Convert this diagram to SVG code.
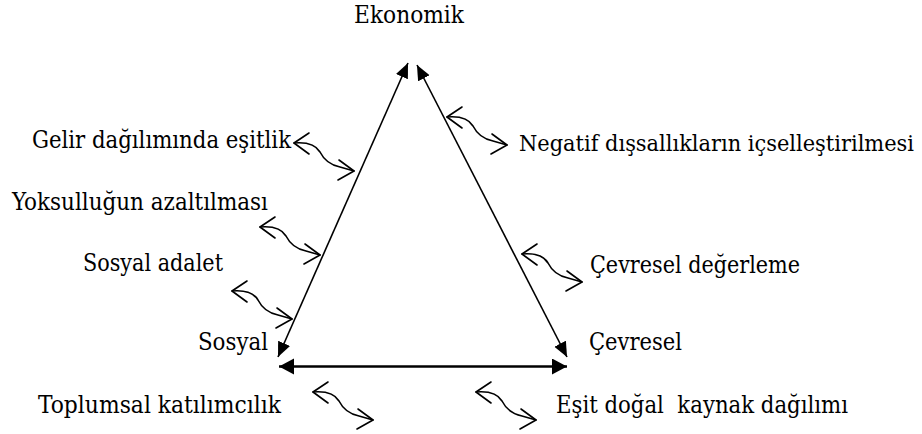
<svg xmlns="http://www.w3.org/2000/svg" width="922" height="434" viewBox="0 0 922 434">
  <style>
    text { font-family: "DejaVu Serif", "Liberation Serif", serif; font-stretch: condensed; font-size: 25px; fill: #000; white-space: pre; }
    .long { font-size: 23px; }
    .edge { stroke: #000; stroke-width: 1.6; fill: none; }
    .base { stroke: #000; stroke-width: 2.4; fill: none; }
    .wave { stroke: #000; stroke-width: 1.6; fill: none; stroke-linecap: round; stroke-linejoin: round; }
  </style>
  <defs>
    <marker id="head" markerUnits="userSpaceOnUse" markerWidth="16" markerHeight="14" refX="15" refY="6.5" orient="auto-start-reverse">
      <path d="M0,0 L15,6.5 L0,13 Z" fill="#000"/>
    </marker>
    <marker id="headB" markerUnits="userSpaceOnUse" markerWidth="16" markerHeight="18" refX="15" refY="8" orient="auto-start-reverse">
      <path d="M0,0 L15,8 L0,16 Z" fill="#000"/>
    </marker>
    <!-- squiggly two-headed link, left tip at origin -->
    <g id="squiggle" class="wave">
      <path d="M15,-10 L0,0 L15,11"/>
      <path d="M0,0 C12,-1 22,2 26,9 C30,17 36,22 46,24 L60,28"/>
      <path d="M45,17 L60,28 L44,37"/>
    </g>
  </defs>

  <!-- triangle sides -->
  <g id="connectors">
    <line class="edge" x1="278" y1="357" x2="408" y2="63" marker-start="url(#head)" marker-end="url(#head)"/>
    <line class="edge" x1="417" y1="65" x2="567" y2="357" marker-start="url(#head)" marker-end="url(#head)"/>
    <line class="base" x1="279" y1="366.5" x2="567" y2="366.5" marker-start="url(#headB)" marker-end="url(#headB)"/>
  </g>

  <!-- corner labels -->
  <g id="ekonomik"><text x="354" y="23" textLength="110" lengthAdjust="spacingAndGlyphs">Ekonomik</text></g>
  <g id="sosyal"><text x="198" y="350" textLength="70" lengthAdjust="spacingAndGlyphs">Sosyal</text></g>
  <g id="cevresel"><text x="589" y="350" textLength="93" lengthAdjust="spacingAndGlyphs">Çevresel</text></g>

  <!-- side labels with squiggly links -->
  <g id="gelir">
    <text x="32" y="148" textLength="259" lengthAdjust="spacingAndGlyphs">Gelir dağılımında eşitlik</text>
    <use href="#squiggle" x="294" y="143"/>
  </g>
  <g id="negatif">
    <text class="long" x="519" y="151" textLength="395" lengthAdjust="spacingAndGlyphs">Negatif dışsallıkların içselleştirilmesi</text>
    <use href="#squiggle" x="447" y="117"/>
  </g>
  <g id="yoksulluk">
    <text x="12" y="210" textLength="256" lengthAdjust="spacingAndGlyphs">Yoksulluğun azaltılması</text>
    <use href="#squiggle" x="260" y="227"/>
  </g>
  <g id="adalet">
    <text x="83" y="271" textLength="140" lengthAdjust="spacingAndGlyphs">Sosyal adalet</text>
    <use href="#squiggle" x="232" y="291"/>
  </g>
  <g id="degerleme">
    <text x="590" y="273" textLength="210" lengthAdjust="spacingAndGlyphs">Çevresel değerleme</text>
    <use href="#squiggle" x="522" y="254"/>
  </g>
  <g id="katilim">
    <text x="38" y="413" textLength="243" lengthAdjust="spacingAndGlyphs">Toplumsal katılımcılık</text>
    <use href="#squiggle" x="313" y="392"/>
  </g>
  <g id="kaynak">
    <text x="556" y="413" textLength="292" lengthAdjust="spacingAndGlyphs">Eşit doğal  kaynak dağılımı</text>
    <use href="#squiggle" x="476" y="392"/>
  </g>
</svg>
